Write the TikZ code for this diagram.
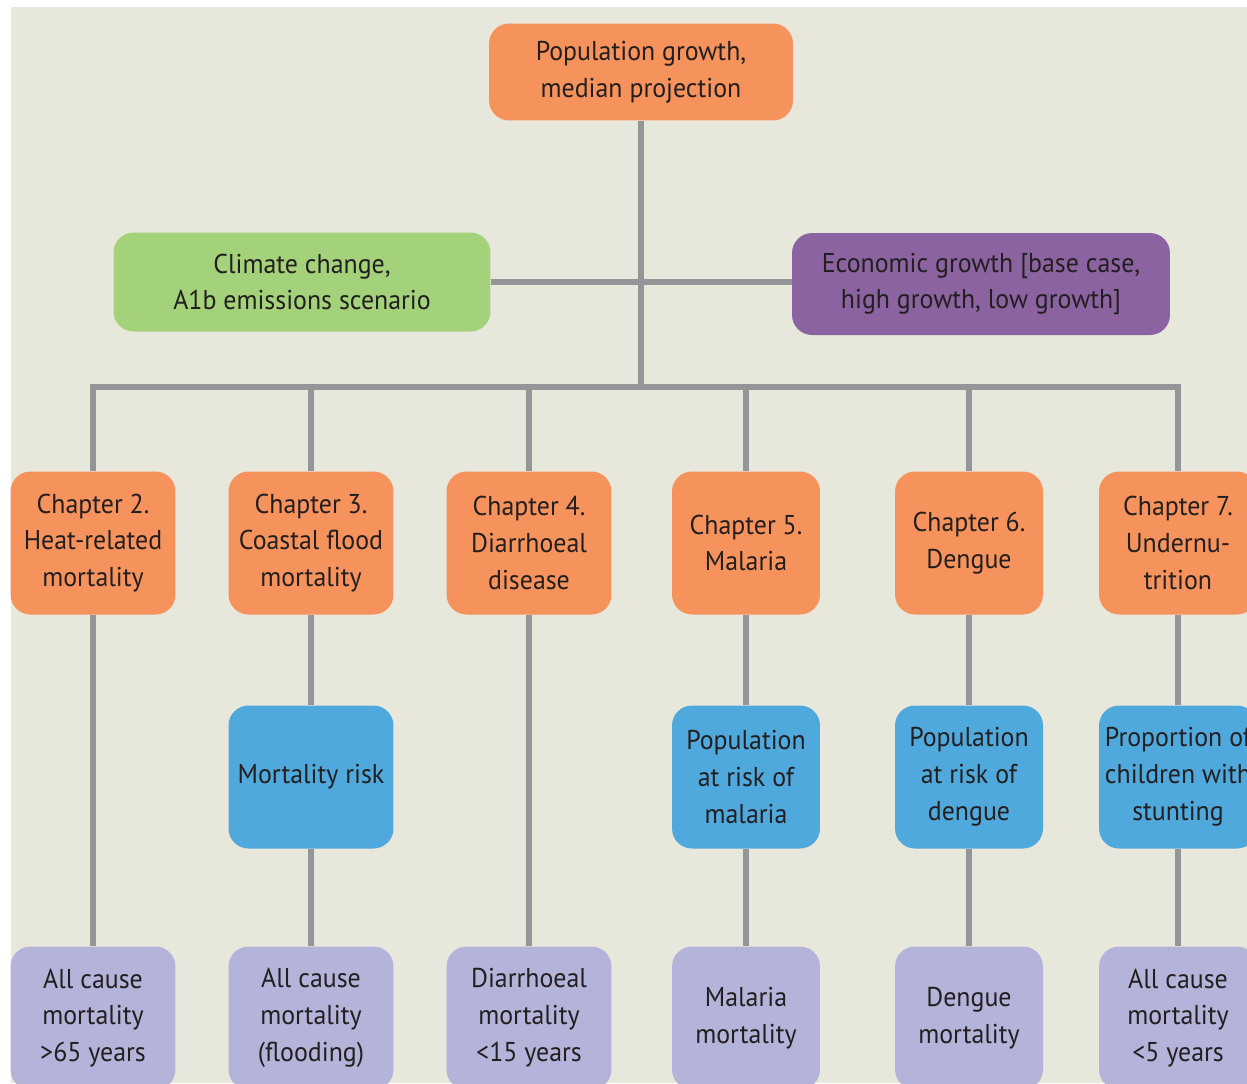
\documentclass[tikz,border=0pt]{standalone}
\usepackage{fontspec}
\setmainfont{PT Sans}[FakeStretch=0.95]
\definecolor{paper}{HTML}{E8E7DC}
\definecolor{orng}{HTML}{F6935C}
\definecolor{grn}{HTML}{A3D27A}
\definecolor{prpl}{HTML}{8B63A0}
\definecolor{blu}{HTML}{4FA9DC}
\definecolor{lav}{HTML}{B4B3D9}
\definecolor{lnk}{HTML}{939598}
\definecolor{ink}{HTML}{231F20}
\begin{document}
\begin{tikzpicture}[x=0.02cm, y=-0.02cm,
  box/.style={rounded corners=0.4cm, inner sep=0pt, align=center, text=ink,
    minimum height=2.86cm, font=\fontsize{15.5}{21}\selectfont},
  widebox/.style={box, minimum width=3.3cm},
  slimbox/.style={box, minimum width=2.96cm},
  chapter/.style={fill=orng},
  risk/.style={fill=blu},
  outcome/.style={fill=lav},
  link/.style={draw=lnk, line width=3.4pt}]
  \useasboundingbox (0,0) rectangle (1247,1083);
  \clip (0,0) rectangle (1247,1083);
  \fill[paper] (11,7) rectangle (1247,1083);

  \node[box, fill=orng, minimum width=6.08cm, minimum height=1.94cm] (pop) at (641,72)
    {Population growth,\\median projection};
  \node[box, fill=grn, minimum width=7.54cm, minimum height=1.98cm] (climate) at (302,282)
    {Climate change,\\A1b emissions scenario};
  \node[box, fill=prpl, minimum width=7.56cm, minimum height=2.04cm] (econ) at (981,284)
    {Economic growth [base case,\\high growth, low growth]};

  \node[widebox, chapter] (ch2) at (93,543) {Chapter 2.\\Heat-related\\mortality};
  \node[widebox, chapter] (ch3) at (311,543) {Chapter 3.\\Coastal flood\\mortality};
  \node[widebox, chapter] (ch4) at (529,543) {Chapter 4.\\Diarrhoeal\\disease};
  \node[slimbox, chapter] (ch5) at (746,543) {Chapter 5.\\Malaria};
  \node[slimbox, chapter] (ch6) at (969,543) {Chapter 6.\\Dengue};
  \node[box, minimum width=3.16cm, chapter] (ch7) at (1178,543) {Chapter 7.\\Undernu-\\trition};

  \node[widebox, risk] (risk3) at (311,777) {Mortality risk};
  \node[slimbox, risk] (risk5) at (746,777) {Population\\at risk of\\malaria};
  \node[slimbox, risk] (risk6) at (969,777) {Population\\at risk of\\dengue};
  \node[box, minimum width=3.16cm, risk] (risk7) at (1178,777) {Proportion of\\children with\\stunting};

  \node[widebox, outcome] (mort2) at (93,1018) {All cause\\mortality\\>65 years};
  \node[widebox, outcome] (mort3) at (311,1018) {All cause\\mortality\\(flooding)};
  \node[widebox, outcome] (mort4) at (529,1018) {Diarrhoeal\\mortality\\<15 years};
  \node[slimbox, outcome] (mort5) at (746,1018) {Malaria\\mortality};
  \node[slimbox, outcome] (mort6) at (969,1018) {Dengue\\mortality};
  \node[box, minimum width=3.16cm, outcome] (mort7) at (1178,1018) {All cause\\mortality\\<5 years};

  \coordinate (bus) at (641,387);
  \draw[link] (pop) -- (bus);
  \draw[link] (climate.east) -- (climate.east -| econ.west);
  \draw[link] (ch2.north) |- (bus) -| (ch7.north);
  \draw[link] (ch3.north) -- (ch3.north |- bus);
  \draw[link] (ch4.north) -- (ch4.north |- bus);
  \draw[link] (ch5.north) -- (ch5.north |- bus);
  \draw[link] (ch6.north) -- (ch6.north |- bus);

  \draw[link] (ch2) -- (mort2);
  \draw[link] (ch3) -- (risk3) -- (mort3);
  \draw[link] (ch4) -- (mort4);
  \draw[link] (ch5) -- (risk5) -- (mort5);
  \draw[link] (ch6) -- (risk6) -- (mort6);
  \draw[link] (ch7) -- (risk7) -- (mort7);
\end{tikzpicture}
\end{document}
